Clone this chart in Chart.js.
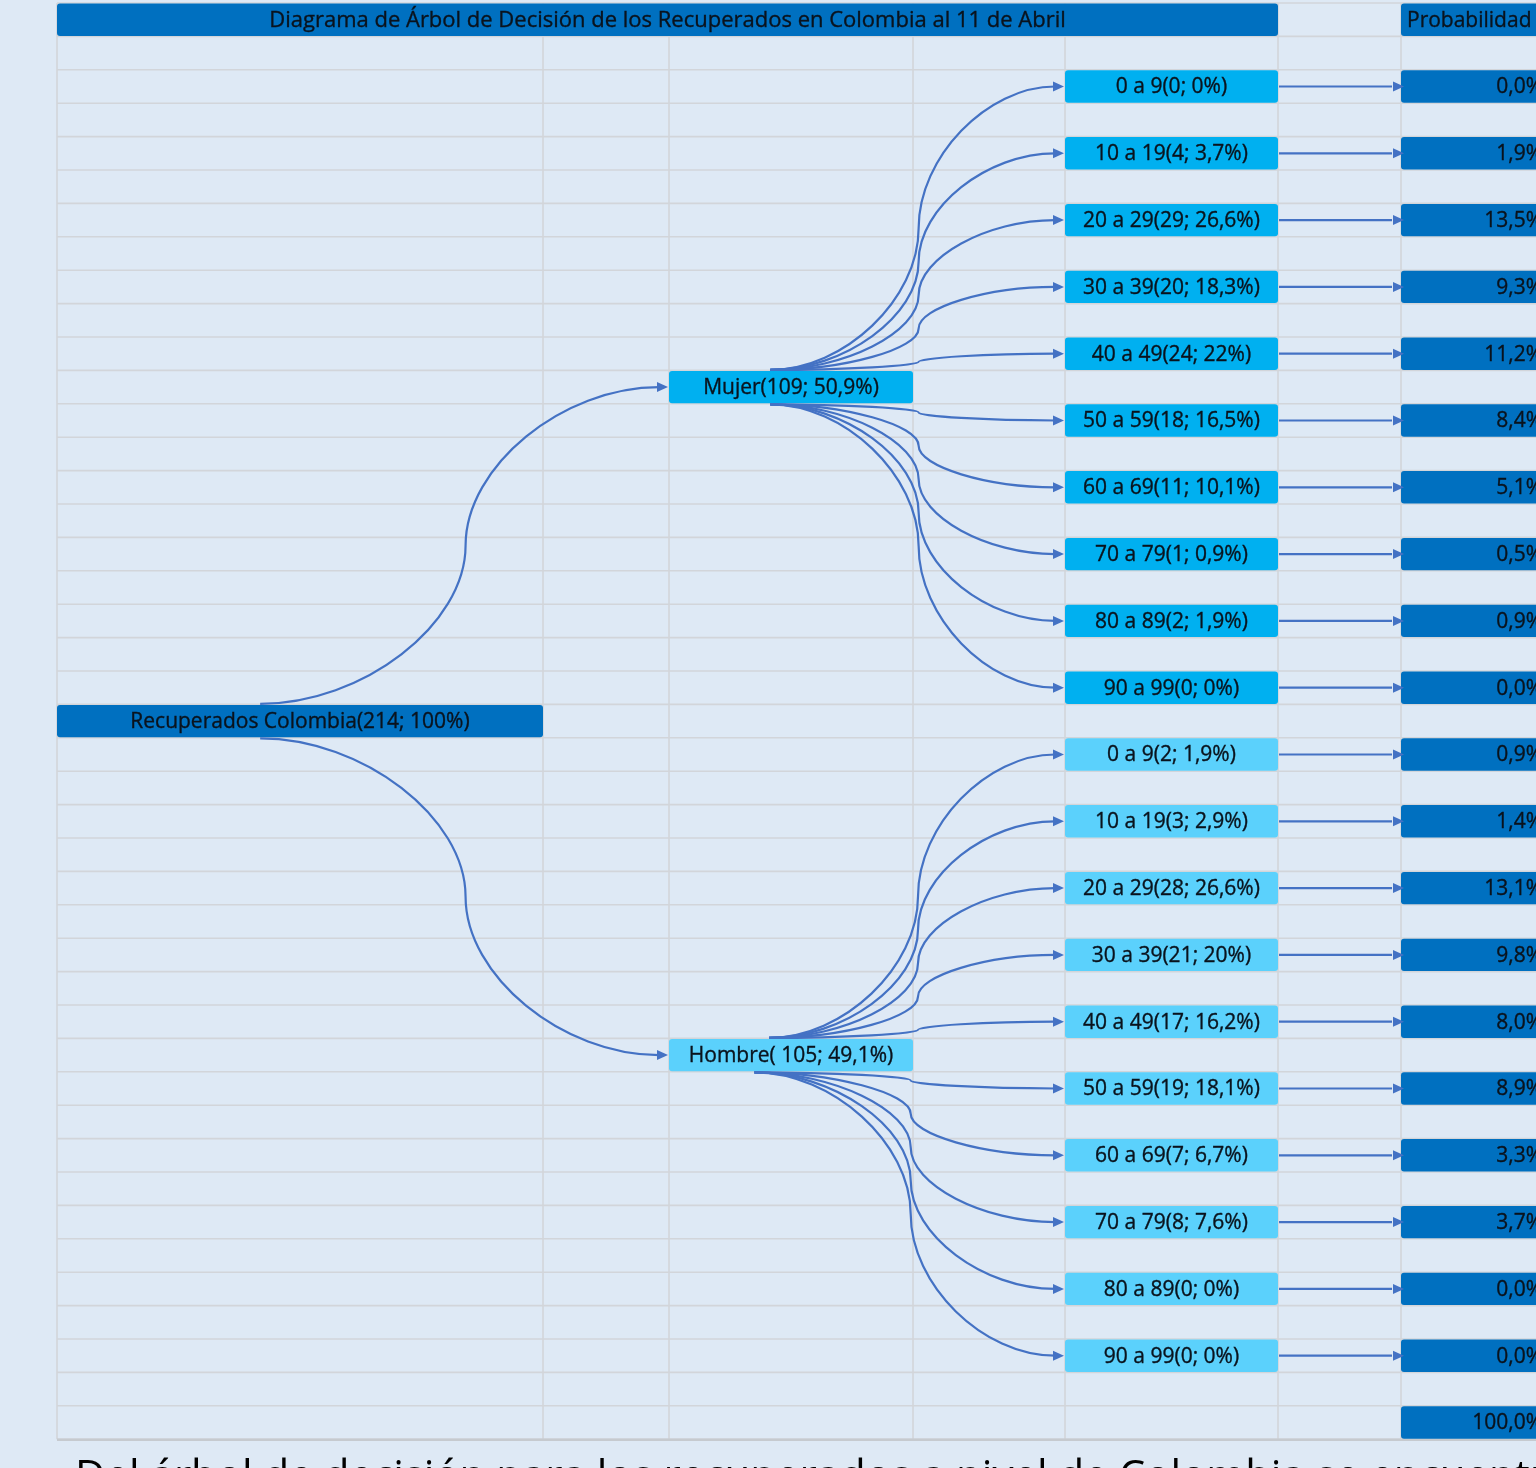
<!DOCTYPE html>
<html>
<head>
<meta charset="utf-8">
<script src="https://cdn.jsdelivr.net/npm/chart.js@4.4.1/dist/chart.umd.min.js"></script>
<style>
  html,body{margin:0;padding:0;background:#dee9f5;overflow:hidden}
  #wrap{width:1536px;height:1468px}
</style>
</head>
<body>
<div id="wrap"><canvas id="tree" width="1536" height="1468"></canvas></div>
<script>
// ---------- DATA ----------
const TITLE = 'Diagrama de Árbol de Decisión de los Recuperados en Colombia al 11 de Abril';
const PROB_HEADER = 'Probabilidad';
const ROOT_NAME = 'Recuperados Colombia';
const ROOT_COUNT = 214;
const ROOT_PCT = 100;
const GENDERS = ['Mujer', 'Hombre'];
const GENDER_COUNT = [109, 105];
const GENDER_PCT = [50.9, 49.1];
const AGE_GROUPS = ['0 a 9','10 a 19','20 a 29','30 a 39','40 a 49','50 a 59','60 a 69','70 a 79','80 a 89','90 a 99'];
const MUJER_COUNT = [0, 4, 29, 20, 24, 18, 11, 1, 2, 0];
const MUJER_PCT   = [0, 3.7, 26.6, 18.3, 22, 16.5, 10.1, 0.9, 1.9, 0];
const MUJER_PROB  = [0.0, 1.9, 13.5, 9.3, 11.2, 8.4, 5.1, 0.5, 0.9, 0.0];
const HOMBRE_COUNT = [2, 3, 28, 21, 17, 19, 7, 8, 0, 0];
const HOMBRE_PCT   = [1.9, 2.9, 26.6, 20, 16.2, 18.1, 6.7, 7.6, 0, 0];
const HOMBRE_PROB  = [0.9, 1.4, 13.1, 9.8, 8.0, 8.9, 3.3, 3.7, 0.0, 0.0];
const PROB_TOTAL = 100.0;
const NOTE = 'Del árbol de decisión para los recuperados a nivel de Colombia se encuentra que';

// ---------- LAYOUT (sheet grid) ----------
const COLS = [57, 543, 669, 913, 1065, 1278, 1401];
const PROB_END = 1560;
const N_ROWS = 43;
const ROW_LABELS = Array.from({length: N_ROWS}, (_, i) => String(i));
const C_DARK = '#0070c0', C_CYAN = '#00b0f0', C_LIGHT = '#5bd1fc';
const C_LINE = '#4472c4', C_GRID = '#d2d5da', C_BG = '#dee9f5';
const FONT = "'Open Sans', 'DejaVu Sans', sans-serif";

const pct = v => (Number.isInteger(v) ? String(v) : v.toFixed(1).replace('.', ',')) + '%';
const prob = v => v.toFixed(1).replace('.', ',') + '%';
const nodeLabel = (name, n, p, pad) => `${name}(${pad || ''}${n}; ${pct(p)})`;

// ---------- BOXES ----------
const sets = {dark: [], cyan: [], light: []};
const setIdx = {dark: 0, cyan: 1, light: 2};
function box(set, row, x0, x1, text, align, size) {
  sets[set].push({x: [x0, x1], y: String(row), text, align: align || 'center', size: size || 21});
  return [setIdx[set], sets[set].length - 1];
}
const edges = [];

box('dark', 0, COLS[0], COLS[5], TITLE, 'center', 22);
box('dark', 0, COLS[6], PROB_END, PROB_HEADER, 'left');
const root = box('dark', 21, COLS[0], COLS[1], nodeLabel(ROOT_NAME, ROOT_COUNT, ROOT_PCT));

const branches = [
  {set: 'cyan',  row: 11, firstRow: 2,  count: MUJER_COUNT,  pct: MUJER_PCT,  prob: MUJER_PROB,  pad: '',  up: 0.415, down: 0.415},
  {set: 'light', row: 31, firstRow: 22, count: HOMBRE_COUNT, pct: HOMBRE_PCT, prob: HOMBRE_PROB, pad: ' ', up: 0.41,  down: 0.35}
];
branches.forEach((b, g) => {
  const gNode = box(b.set, b.row, COLS[2], COLS[3], nodeLabel(GENDERS[g], GENDER_COUNT[g], GENDER_PCT[g], b.pad));
  edges.push({from: root, to: gNode, kind: 'curve', up: 0.418, down: 0.418});
  AGE_GROUPS.forEach((a, i) => {
    const r = b.firstRow + 2 * i;
    const aNode = box(b.set, r, COLS[4], COLS[5], nodeLabel(a, b.count[i], b.pct[i]));
    const pNode = box('dark', r, COLS[6], PROB_END, prob(b.prob[i]), 'right');
    edges.push({from: gNode, to: aNode, kind: 'curve', up: b.up, down: b.down});
    edges.push({from: aNode, to: pNode, kind: 'straight'});
  });
});
box('dark', 42, COLS[6], PROB_END, prob(PROB_TOTAL), 'right');

// ---------- DRAWING ----------
function arrowHead(ctx, x, y) {
  ctx.beginPath();
  ctx.moveTo(x, y);
  ctx.lineTo(x - 11, y - 5);
  ctx.lineTo(x - 11, y + 5);
  ctx.closePath();
  ctx.fill();
}
function connector(ctx, x0, y0, x1, y1) {
  const xe = x1 - 9, w = xe - x0, h = y1 - y0, mx = x0 + w / 2 + 6;
  ctx.beginPath();
  ctx.moveTo(x0, y0);
  ctx.bezierCurveTo(x0 + (mx - x0) / 2, y0, mx, y0 + h / 4, mx, y0 + h / 2);
  ctx.bezierCurveTo(mx, y0 + 3 * h / 4, xe - (xe - mx) / 2, y1, xe, y1);
  ctx.stroke();
  arrowHead(ctx, x1, y1);
}
function label(ctx, text, x, y) {
  ctx.fillText(text, x, y);
  ctx.strokeText(text, x, y);
}

const treePlugin = {
  id: 'tree',
  beforeDraw(chart) {
    const ctx = chart.ctx;
    ctx.save();
    ctx.fillStyle = C_BG;
    ctx.fillRect(0, 0, chart.width, chart.height);
    ctx.restore();
  },
  beforeDatasetsDraw(chart) {
    const {ctx, chartArea: ca, scales: {x, y}} = chart;
    const rowH = y.getPixelForValue(1) - y.getPixelForValue(0);
    const top = y.getPixelForValue(0) - rowH / 2;
    ctx.save();
    ctx.strokeStyle = C_GRID;
    ctx.lineWidth = 1.6;
    const left = x.getPixelForValue(COLS[0]);
    for (let k = 0; k <= N_ROWS; k++) {
      const py = top + k * rowH;
      ctx.beginPath(); ctx.moveTo(left, py); ctx.lineTo(ca.right, py); ctx.stroke();
    }
    COLS.forEach(c => {
      const px = x.getPixelForValue(c);
      ctx.beginPath(); ctx.moveTo(px, top); ctx.lineTo(px, top + N_ROWS * rowH); ctx.stroke();
    });
    ctx.strokeStyle = '#c6cacf';
    ctx.lineWidth = 2.4;
    ctx.beginPath(); ctx.moveTo(left, top + N_ROWS * rowH + 0.5); ctx.lineTo(ca.right, top + N_ROWS * rowH + 0.5); ctx.stroke();
    ctx.restore();
  },
  afterDatasetsDraw(chart) {
    const ctx = chart.ctx;
    const el = n => chart.getDatasetMeta(n[0]).data[n[1]].getProps(['x', 'base', 'y', 'height'], true);
    ctx.save();
    ctx.strokeStyle = C_LINE;
    ctx.fillStyle = C_LINE;
    ctx.lineWidth = 2.2;
    edges.forEach(e => {
      const a = el(e.from), b = el(e.to);
      const ty = b.y;
      if (e.kind === 'straight') {
        ctx.beginPath(); ctx.moveTo(a.x + 1, ty); ctx.lineTo(b.base - 9, ty); ctx.stroke();
        arrowHead(ctx, b.base + 3, ty);
      } else {
        const goingUp = ty < a.y;
        const fx = a.base + (a.x - a.base) * (goingUp ? e.up : e.down);
        const fy = a.y + (goingUp ? -1 : 1) * (a.height / 2 + 1);
        connector(ctx, fx, fy, b.base - 1, ty);
      }
    });
    // box texts
    ctx.fillStyle = '#0a131d';
    ctx.strokeStyle = '#0a131d';
    ctx.lineWidth = 0.35;
    ctx.textBaseline = 'middle';
    chart.data.datasets.forEach((ds, di) => {
      chart.getDatasetMeta(di).data.forEach((bar, j) => {
        const p = bar.getProps(['x', 'base', 'y'], true);
        const d = ds.data[j];
        ctx.font = `${d.size}px ${FONT}`;
        ctx.textAlign = d.align;
        const tx = d.align === 'center' ? (p.x + p.base) / 2 : d.align === 'left' ? p.base + 6 : p.x - 17;
        label(ctx, d.text, tx, p.y + 1);
      });
    });
    ctx.restore();
  },
  afterDraw(chart) {
    const ctx = chart.ctx;
    ctx.save();
    ctx.fillStyle = '#000';
    ctx.font = `42px ${FONT}`;
    ctx.textAlign = 'left';
    ctx.textBaseline = 'alphabetic';
    ctx.fillText(NOTE, 75, 1490);
    ctx.restore();
  }
};

const mkSet = (key, color) => ({
  data: sets[key], backgroundColor: color, borderRadius: 3, borderSkipped: false,
  grouped: false, barPercentage: 0.97, categoryPercentage: 1
});

new Chart(document.getElementById('tree'), {
  type: 'bar',
  data: {
    labels: ROW_LABELS,
    datasets: [mkSet('dark', C_DARK), mkSet('cyan', C_CYAN), mkSet('light', C_LIGHT)]
  },
  options: {
    indexAxis: 'y',
    responsive: false,
    animation: false,
    events: [],
    layout: {padding: {top: 3, bottom: 28.8, left: 0, right: 0}},
    scales: {
      x: {type: 'linear', min: 0, max: 1536, display: false},
      y: {type: 'category', display: false, offset: true}
    },
    plugins: {legend: {display: false}, tooltip: {enabled: false}}
  },
  plugins: [treePlugin]
});
</script>
</body>
</html>
